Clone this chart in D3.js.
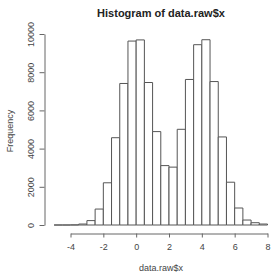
<!DOCTYPE html>
<html lang="en">
<head>
    <meta charset="UTF-8">
    <title>Histogram of data.raw$x</title>
    <script src="https://cdn.jsdelivr.net/npm/d3@7"></script>
    <style>
        body { margin: 0; background: #fff; }
        svg text { font-family: "Liberation Sans", Arial, sans-serif; }
    </style>
</head>
<body>

<script>

    var width = 272;
    var height = 273;

    // bin edges (left edge of each bar), width 0.5
    var binStarts = [-5, -4.5, -4, -3.5, -3, -2.5, -2, -1.5, -1, -0.5, 0, 0.5, 1,
        1.5, 2, 2.5, 3, 3.5, 4, 4.5, 5, 5.5, 6, 6.5, 7, 7.5];
    var binWidth = 0.5;
    var counts = [0, 0, 5, 50, 230, 835, 2210, 4570, 7410, 9630, 9690, 7460, 4890,
        3110, 3030, 5010, 7620, 9440, 9700, 7510, 4610, 2240, 890, 260, 120, 50];

    var xTicks = [-4, -2, 0, 2, 4, 6, 8];
    var yTicks = [0, 2000, 4000, 6000, 8000, 10000];

    var xScale = d3.scaleLinear()
        .domain([-4, 8])
        .range([70.5, 267.5]);

    var yScale = d3.scaleLinear()
        .domain([0, 10000])
        .range([225, 34]);

    var svg = d3.select("body").append("svg")
        .attr("width", width)
        .attr("height", height);

    // bars as closed paths so that empty bins still show as a line on the base
    svg.append("g")
        .selectAll("path")
        .data(binStarts)
        .enter().append("path")
        .attr("d", function (d, i) {
            var p = d3.path();
            p.moveTo(xScale(d), yScale(0));
            p.lineTo(xScale(d), yScale(counts[i]));
            p.lineTo(xScale(d + binWidth), yScale(counts[i]));
            p.lineTo(xScale(d + binWidth), yScale(0));
            p.closePath();
            return p.toString();
        })
        .attr("fill", "#fff")
        .attr("stroke", "#555")
        .attr("stroke-width", 1);

    var plain = function (d) { return String(d); };

    var xAxis = d3.axisBottom(xScale)
        .tickValues(xTicks)
        .tickFormat(plain)
        .tickSize(4)
        .tickSizeOuter(0)
        .tickPadding(6);

    var yAxis = d3.axisLeft(yScale)
        .tickValues(yTicks)
        .tickFormat(plain)
        .tickSize(5)
        .tickSizeOuter(0)
        .tickPadding(3);

    var xGroup = svg.append("g")
        .attr("transform", "translate(0,233.5)")
        .call(xAxis);

    var yGroup = svg.append("g")
        .attr("transform", "translate(44.5,0)")
        .call(yAxis);

    [xGroup, yGroup].forEach(function (g) {
        g.selectAll("path, line").attr("stroke", "#666");
        g.selectAll("text")
            .attr("fill", "#444")
            .style("font-size", "9px");
    });

    yGroup.selectAll(".tick text")
        .attr("text-anchor", "middle")
        .attr("transform", "rotate(-90)")
        .attr("x", 0)
        .attr("dx", null)
        .attr("dy", null)
        .attr("y", -11);

    // title and labels
    svg.append("text")
        .attr("x", 161)
        .attr("y", 17)
        .attr("text-anchor", "middle")
        .style("font-size", "11px")
        .style("font-weight", "bold")
        .attr("fill", "#222")
        .text("Histogram of data.raw$x");

    svg.append("text")
        .attr("x", 161)
        .attr("y", 271)
        .attr("text-anchor", "middle")
        .style("font-size", "9px")
        .attr("fill", "#444")
        .text("data.raw$x");

    svg.append("text")
        .attr("transform", "translate(13,131) rotate(-90)")
        .attr("text-anchor", "middle")
        .style("font-size", "9px")
        .attr("fill", "#444")
        .text("Frequency");

</script>
</body>
</html>
